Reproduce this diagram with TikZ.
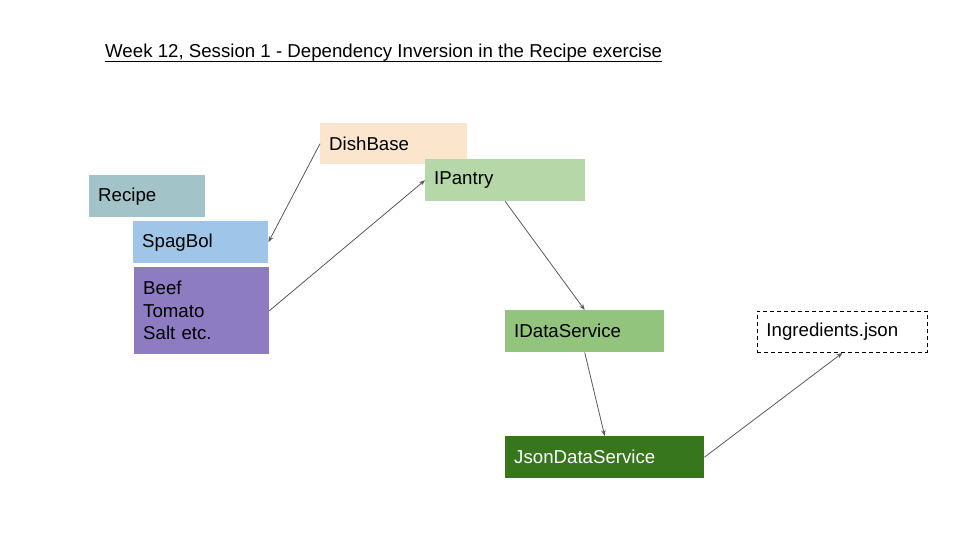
\documentclass[tikz,border=0pt]{standalone}
\usepackage{fontspec}
\setmainfont{Liberation Sans}
\usetikzlibrary{arrows.meta}
\definecolor{cDish}{HTML}{FCE5CD}
\definecolor{cPantry}{HTML}{B6D7A8}
\definecolor{cRecipe}{HTML}{A2C4C9}
\definecolor{cSpag}{HTML}{9FC5E8}
\definecolor{cBeef}{HTML}{8E7CC3}
\definecolor{cData}{HTML}{93C47D}
\definecolor{cJson}{HTML}{38761D}
\definecolor{cArrow}{HTML}{595959}
\begin{document}
\begin{tikzpicture}[x=1pt,y=-1pt,
  every node/.style={font=\fontsize{18.67pt}{22.5pt}\selectfont},
  box/.style={rectangle, anchor=north west, inner xsep=9pt, inner ysep=0pt, align=left, draw=none},
  conn/.style={draw=cArrow, line width=0.8pt, -{Stealth[length=6pt,width=4.5pt]}}
]
\useasboundingbox (0,0) rectangle (960,540);
\fill[white] (0,0) rectangle (960,540);

\node[inner sep=0pt, anchor=base west] (title) at (105,58) {Week 12, Session 1 - Dependency Inversion in the Recipe exercise};
\draw[line width=0.9pt] ([yshift=-3pt]title.base west) -- ([yshift=-3pt]title.base east);

\node[box, fill=cDish, minimum width=147pt, minimum height=41pt, text width=129pt] (dish) at (320,123) {DishBase};
\node[box, fill=cPantry, minimum width=160pt, minimum height=42pt, text width=142pt] (pantry) at (425,159) {IPantry};
\node[box, fill=cRecipe, minimum width=116pt, minimum height=42pt, text width=98pt] (recipe) at (89,175) {Recipe};
\node[box, fill=cSpag, minimum width=135pt, minimum height=42pt, text width=117pt] (spag) at (133,221) {SpagBol};
\node[box, fill=cBeef, minimum width=135pt, minimum height=87pt, text width=117pt] (beef) at (134,267) {Beef\\Tomato\\Salt etc.};
\node[box, fill=cData, minimum width=159pt, minimum height=42pt, text width=141pt] (idata) at (505,310) {IDataService};
\node[box, fill=cJson, text=white, minimum width=199pt, minimum height=42pt, text width=181pt] (json) at (505,436) {JsonDataService};
\node[box, fill=white, draw=black, line width=0.9pt, dash pattern=on 4pt off 3pt, minimum width=170pt, minimum height=41pt, text width=152pt] (ingr) at (757,311) {Ingredients.json};

\draw[conn] (dish.west) -- (spag.east);
\draw[conn] (beef.east) -- (pantry.west);
\draw[conn] (pantry.south) -- (idata.north);
\draw[conn] (idata.south) -- (json.north);
\draw[conn] (json.east) -- (ingr.south);
\end{tikzpicture}
\end{document}
